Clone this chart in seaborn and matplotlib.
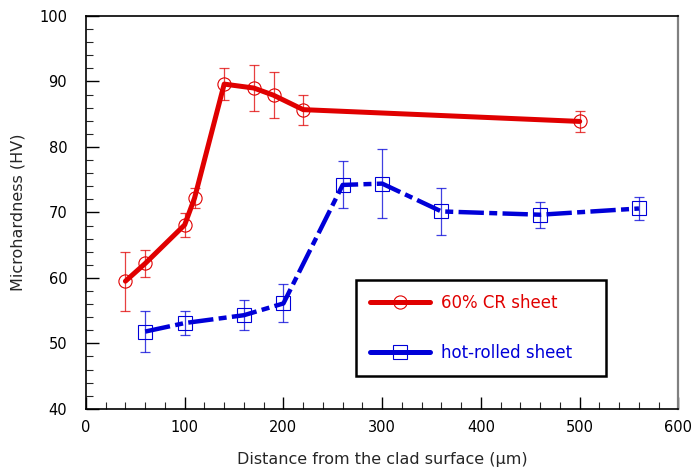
import numpy as np
import pandas as pd
import matplotlib
matplotlib.use("Agg")
import matplotlib.pyplot as plt
from matplotlib.lines import Line2D
from matplotlib.ticker import MultipleLocator
import seaborn as sns

# 60% cold-rolled sheet
cr_x = [40, 60, 100, 110, 140, 170, 190, 220, 500]
cr_y = [59.5, 62.2, 68.1, 72.2, 89.6, 89.0, 87.9, 85.7, 83.9]
cr_err = [4.5, 2.0, 1.8, 1.6, 2.4, 3.5, 3.5, 2.3, 1.65]

# hot-rolled sheet
hr_x = [60, 100, 160, 200, 260, 300, 360, 460, 560]
hr_y = [51.8, 53.1, 54.3, 56.1, 74.2, 74.4, 70.15, 69.65, 70.6]
hr_err = [3.1, 1.8, 2.3, 2.9, 3.6, 5.3, 3.65, 2.0, 1.7]

series_labels = ["60% CR sheet", "hot-rolled sheet"]
x_label = "Distance from the clad surface (\u03bcm)"
y_label = "Microhardness (HV)"

RED = "#e00000"
BLUE = "#0000d8"
HR_DASHES = (5.7, 1.2, 1.8, 1.2)

sns.set_style("ticks")
plt.rcParams["font.family"] = ["DejaVu Sans"]

fig = plt.figure(figsize=(6.93, 4.71), dpi=100)
ax = fig.add_axes([0.124, 0.132, 0.855, 0.834])

cr_df = pd.DataFrame({"x": cr_x, "y": cr_y})
hr_df = pd.DataFrame({"x": hr_x, "y": hr_y})

# error bars first so the lines sit on top
ax.errorbar(cr_x, cr_y, yerr=cr_err, fmt="none", ecolor=RED, elinewidth=0.9,
            capsize=3.5, capthick=0.9, alpha=0.75, zorder=2)
ax.errorbar(hr_x, hr_y, yerr=hr_err, fmt="none", ecolor=BLUE, elinewidth=0.9,
            capsize=3.5, capthick=0.9, alpha=0.75, zorder=2)

sns.lineplot(data=cr_df, x="x", y="y", ax=ax, color=RED, linewidth=3.6,
             marker="o", markersize=9.5, markerfacecolor="none",
             markeredgecolor=RED, markeredgewidth=0.8, zorder=3)
sns.lineplot(data=hr_df, x="x", y="y", ax=ax, color=BLUE, linewidth=3.2,
             marker="s", markersize=9.5, markerfacecolor="none",
             markeredgecolor=BLUE, markeredgewidth=0.8, zorder=3)
hr_line = ax.get_lines()[-1]
hr_line.set_dashes(HR_DASHES)

ax.set_xlim(0, 600)
ax.set_ylim(40, 100)
ax.xaxis.set_major_locator(MultipleLocator(100))
ax.xaxis.set_minor_locator(MultipleLocator(20))
ax.yaxis.set_major_locator(MultipleLocator(10))
ax.yaxis.set_minor_locator(MultipleLocator(2))
ax.tick_params(which="major", direction="in", length=9, width=1,
               labelsize=10.5, pad=8, colors="black")
ax.tick_params(which="minor", direction="in", length=5, width=0.8)
ax.tick_params(axis="y", which="major", pad=13.5)

ax.set_xlabel(x_label, fontsize=11.5, labelpad=12)
ax.set_ylabel(y_label, fontsize=11.5, labelpad=10)

for side in ["left", "bottom", "top"]:
    ax.spines[side].set_color("black")
    ax.spines[side].set_linewidth(1.2)
ax.spines["right"].set_color("#808080")
ax.spines["right"].set_linewidth(1.6)

handles = [
    Line2D([], [], color=RED, linewidth=3.6, marker="o", markersize=9.5,
           markerfacecolor="none", markeredgecolor=RED, markeredgewidth=0.8),
    Line2D([], [], color=BLUE, linewidth=3.6, marker="s", markersize=9.5,
           markerfacecolor="none", markeredgecolor=BLUE, markeredgewidth=0.8),
]
leg = ax.legend(handles, series_labels, loc="upper left",
                bbox_to_anchor=(0.455, 0.094, 0.4235, 0.234), mode="expand",
                frameon=True, fancybox=False, framealpha=1.0,
                fontsize=12, handlelength=3.6, handletextpad=0.7,
                labelspacing=1.9, borderpad=0.85, borderaxespad=0)
leg.get_frame().set_edgecolor("black")
leg.get_frame().set_linewidth(1.8)
for txt, c in zip(leg.get_texts(), [RED, BLUE]):
    txt.set_color(c)

fig.savefig("out.png", dpi=100, facecolor="white")
